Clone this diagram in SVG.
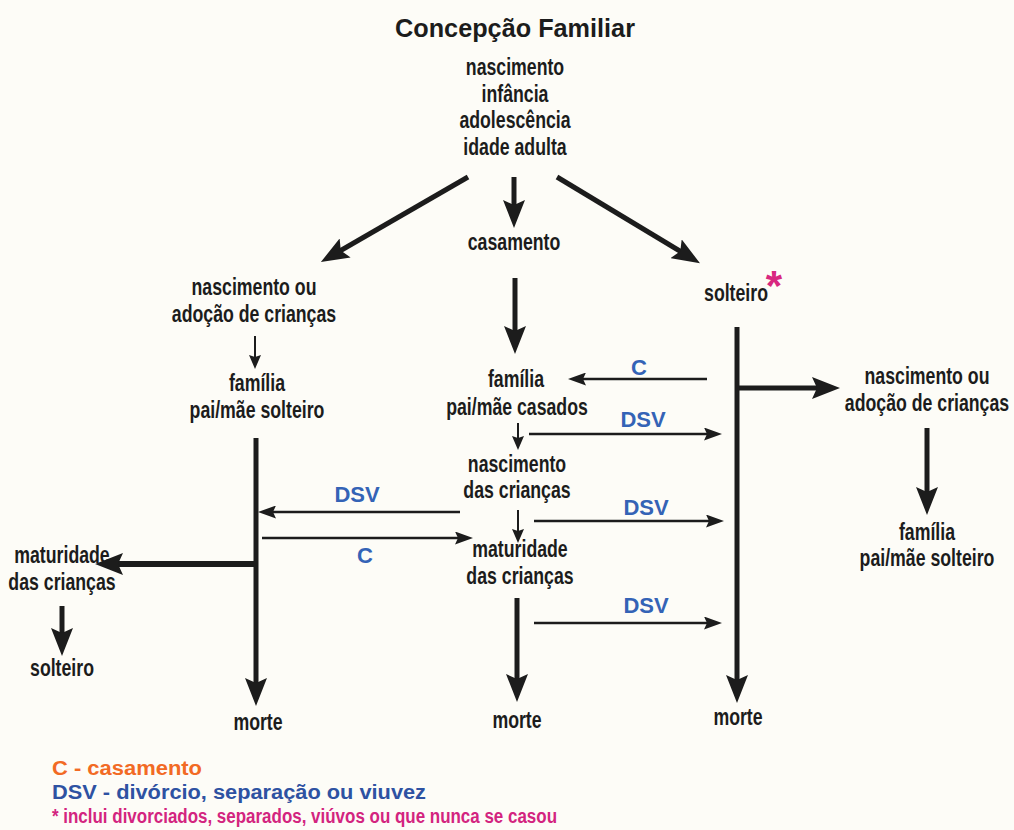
<svg xmlns="http://www.w3.org/2000/svg" width="1014" height="830" viewBox="0 0 1014 830">
  <defs>
    <style>
      .t { font-family: "Liberation Sans", Arial, sans-serif; font-weight: bold; font-size: 23px; fill: #1c1c1c; text-anchor: middle; }
      .title { font-family: "Liberation Sans", Arial, sans-serif; font-weight: bold; font-size: 25px; fill: #1c1c1c; text-anchor: middle; }
      .lbl { font-family: "Liberation Sans", Arial, sans-serif; font-weight: bold; font-size: 22px; fill: #3463b6; text-anchor: middle; }
      .leg { font-family: "Liberation Sans", Arial, sans-serif; font-weight: bold; font-size: 20px; }
      .big { stroke: #1c1c1c; stroke-width: 5; fill: none; marker-end: url(#headBig); }
      .mid { stroke: #1c1c1c; stroke-width: 2.6; fill: none; marker-end: url(#headMid); }
      .thin { stroke: #1c1c1c; stroke-width: 2; fill: none; marker-end: url(#headSmall); }
    </style>
    <marker id="headBig" viewBox="0 0 28 22" markerWidth="28" markerHeight="22" refX="14" refY="11" orient="auto" markerUnits="userSpaceOnUse">
      <path d="M0,0 L28,11 L0,22 L5,11 z" fill="#1c1c1c"/>
    </marker>
    <marker id="headMid" viewBox="0 0 18 13" markerWidth="18" markerHeight="13" refX="8" refY="6.5" orient="auto" markerUnits="userSpaceOnUse">
      <path d="M0,0 L18,6.5 L0,13 L3,6.5 z" fill="#1c1c1c"/>
    </marker>
    <marker id="headSmall" viewBox="0 0 14 12" markerWidth="14" markerHeight="12" refX="6" refY="6" orient="auto" markerUnits="userSpaceOnUse">
      <path d="M0,0 L14,6 L0,12 L2,6 z" fill="#1c1c1c"/>
    </marker>
  </defs>

  <rect x="0" y="0" width="1014" height="830" fill="#fdfcf7"/>

  <text class="title" x="515" y="37" textLength="240" lengthAdjust="spacingAndGlyphs">Concepção Familiar</text>

  <!-- life stages before the split (node texts are condensed horizontally) -->
  <g id="etapas">
    <text class="t" transform="translate(515,75) scale(0.77,1)">nascimento</text>
    <text class="t" transform="translate(515,102) scale(0.77,1)">infância</text>
    <text class="t" transform="translate(515,128) scale(0.77,1)">adolescência</text>
    <text class="t" transform="translate(515,155) scale(0.77,1)">idade adulta</text>
  </g>

  <g id="casamento"><text class="t" transform="translate(514,250) scale(0.77,1)">casamento</text></g>

  <!-- left branch: single parent -->
  <g id="nasc-adocao-esq">
    <text class="t" transform="translate(254,295) scale(0.77,1)">nascimento ou</text>
    <text class="t" transform="translate(254,322) scale(0.77,1)">adoção de crianças</text>
  </g>
  <g id="familia-solteiro-esq">
    <text class="t" transform="translate(257,391) scale(0.77,1)">família</text>
    <text class="t" transform="translate(257,418) scale(0.77,1)">pai/mãe solteiro</text>
  </g>
  <g id="maturidade-esq">
    <text class="t" transform="translate(62,563) scale(0.77,1)">maturidade</text>
    <text class="t" transform="translate(62,590) scale(0.77,1)">das crianças</text>
  </g>
  <g id="solteiro-esq"><text class="t" transform="translate(62,676) scale(0.77,1)">solteiro</text></g>
  <g id="morte-esq"><text class="t" transform="translate(258,730) scale(0.77,1)">morte</text></g>

  <!-- centre branch: married couple -->
  <g id="familia-casados">
    <text class="t" transform="translate(516,387) scale(0.77,1)">família</text>
    <text class="t" transform="translate(517,415) scale(0.77,1)">pai/mãe casados</text>
  </g>
  <g id="nasc-criancas">
    <text class="t" transform="translate(517,472) scale(0.77,1)">nascimento</text>
    <text class="t" transform="translate(517,498) scale(0.77,1)">das crianças</text>
  </g>
  <g id="maturidade-centro">
    <text class="t" transform="translate(520,557) scale(0.77,1)">maturidade</text>
    <text class="t" transform="translate(520,584) scale(0.77,1)">das crianças</text>
  </g>
  <g id="morte-centro"><text class="t" transform="translate(517,728) scale(0.77,1)">morte</text></g>

  <!-- right branch: single -->
  <g id="solteiro-dir">
    <text class="t" transform="translate(736,301) scale(0.77,1)">solteiro</text>
    <text x="774" y="300" font-family="Liberation Sans, Arial, sans-serif" font-weight="bold" font-size="42" fill="#d8277f" text-anchor="middle">*</text>
  </g>
  <g id="nasc-adocao-dir">
    <text class="t" transform="translate(927,384) scale(0.77,1)">nascimento ou</text>
    <text class="t" transform="translate(927,411) scale(0.77,1)">adoção de crianças</text>
  </g>
  <g id="familia-solteiro-dir">
    <text class="t" transform="translate(927,540) scale(0.77,1)">família</text>
    <text class="t" transform="translate(927,566) scale(0.77,1)">pai/mãe solteiro</text>
  </g>
  <g id="morte-dir"><text class="t" transform="translate(738,725) scale(0.77,1)">morte</text></g>

  <!-- connectors -->
  <g id="conectores">
    <line class="big" x1="468" y1="177" x2="333" y2="255"/>
    <line class="big" x1="514" y1="177" x2="514" y2="214"/>
    <line class="big" x1="557" y1="177" x2="688" y2="256"/>

    <line class="big" x1="515" y1="278" x2="515" y2="340"/>
    <line class="thin" x1="255" y1="336" x2="255" y2="361"/>
    <line class="thin" x1="518" y1="423" x2="518" y2="442"/>
    <line class="thin" x1="518" y1="510" x2="518" y2="535"/>
    <line class="big" x1="517" y1="598" x2="517" y2="688"/>

    <!-- left trunk with branch to maturity -->
    <line class="big" x1="256" y1="438" x2="256" y2="692"/>
    <line class="big" x1="258" y1="564" x2="109" y2="564" style="stroke-width:6"/>
    <line class="big" x1="62" y1="606" x2="62" y2="642"/>

    <!-- right trunk with branch to children -->
    <line class="big" x1="737" y1="327" x2="737" y2="689"/>
    <line class="big" x1="737" y1="388" x2="826" y2="388"/>
    <line class="big" x1="927" y1="428" x2="927" y2="501"/>

    <!-- transitions between branches -->
    <line class="mid" x1="707" y1="379" x2="578" y2="379"/>
    <line class="mid" x1="529" y1="434" x2="712" y2="434"/>
    <line class="mid" x1="460" y1="512" x2="268" y2="512"/>
    <line class="mid" x1="534" y1="521" x2="714" y2="521"/>
    <line class="mid" x1="262" y1="538" x2="463" y2="538"/>
    <line class="mid" x1="534" y1="623" x2="712" y2="623"/>
  </g>

  <g id="rotulos">
    <text class="lbl" x="639" y="375">C</text>
    <text class="lbl" x="643" y="427">DSV</text>
    <text class="lbl" x="357" y="502">DSV</text>
    <text class="lbl" x="646" y="515">DSV</text>
    <text class="lbl" x="365" y="563">C</text>
    <text class="lbl" x="646" y="613">DSV</text>
  </g>

  <g id="legenda">
    <text class="leg" x="52" y="775" fill="#f26a24" textLength="150" lengthAdjust="spacingAndGlyphs">C - casamento</text>
    <text class="leg" x="52" y="799" fill="#2e52a2" textLength="374" lengthAdjust="spacingAndGlyphs">DSV - divórcio, separação ou viuvez</text>
    <text class="leg" x="52" y="823" fill="#d3247f" textLength="505" lengthAdjust="spacingAndGlyphs">* inclui divorciados, separados, viúvos ou que nunca se casou</text>
  </g>
</svg>
